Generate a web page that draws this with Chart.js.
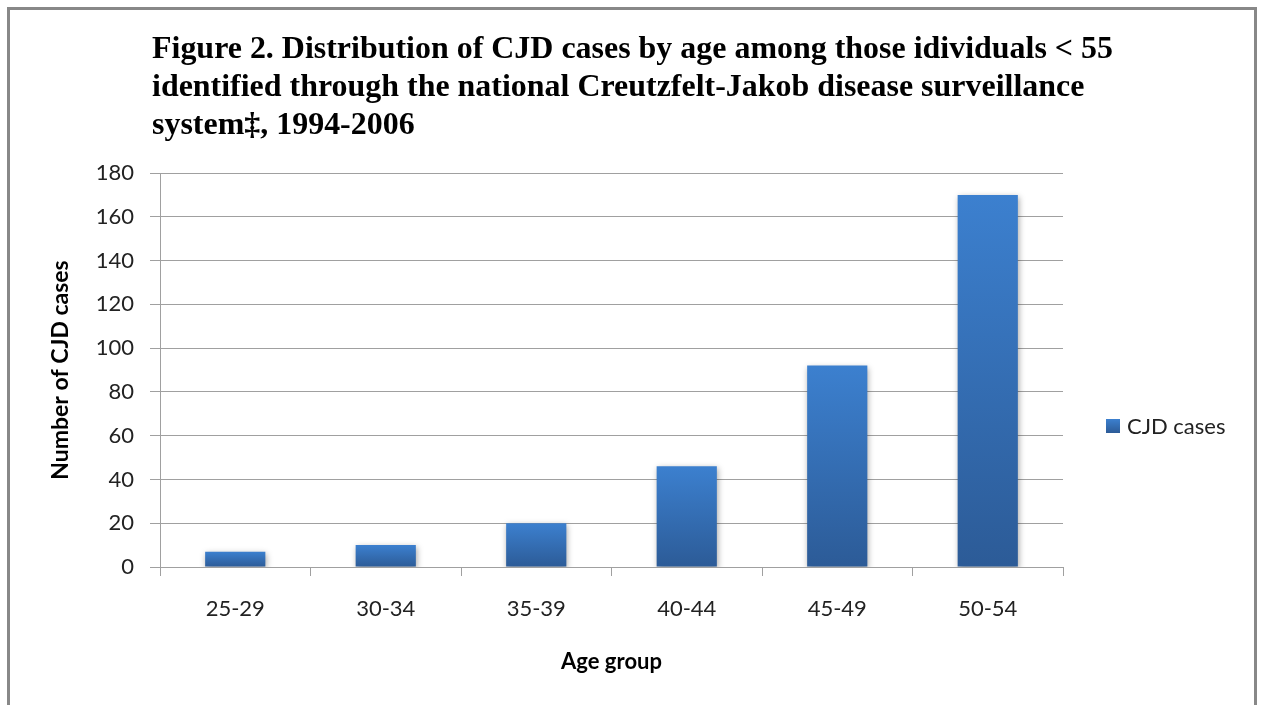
<!DOCTYPE html>
<html><head><meta charset="utf-8">
<script src="https://cdn.jsdelivr.net/npm/chart.js@4.4.0/dist/chart.umd.min.js"></script>
<style>
html,body{margin:0;padding:0;background:#fff;overflow:hidden}
#wrap{position:relative;width:1261px;height:705px}
#frame{position:absolute;left:7px;top:7px;width:1244px;height:720px;border:3px solid #888;pointer-events:none}
canvas{position:absolute;left:0;top:0}
</style></head><body>
<div id="wrap"><canvas id="c" width="1261" height="705"></canvas><div id="frame"></div></div>
<script>
const categories = ['25-29', '30-34', '35-39', '40-44', '45-49', '50-54'];
const cjdCases = [7, 10, 20, 46, 92, 170];
const yTicks = [0, 20, 40, 60, 80, 100, 120, 140, 160, 180];
const seriesName = 'CJD cases';
const titleLines = [
  'Figure 2. Distribution of CJD cases by age among those idividuals < 55',
  'identified through the national Creutzfelt-Jakob disease surveillance',
  'system\u2021, 1994-2006'
];
const xAxisTitle = 'Age group';
const yAxisTitle = 'Number of CJD cases';

const LABEL_FONT = 'Lato';
const GRID = '#a0a0a0';

function barGradient(chart, top, bot) {
  const g = chart.ctx.createLinearGradient(0, top, 0, bot);
  g.addColorStop(0, '#3C80CF');
  g.addColorStop(1, '#2C5B97');
  return g;
}

const titlePlugin = {
  id: 'figTitle',
  afterDraw(chart) {
    const c = chart.ctx;
    c.save();
    c.font = 'bold 32px "Liberation Serif"';
    c.fillStyle = '#000';
    c.textBaseline = 'alphabetic';
    const k = 961 / c.measureText(titleLines[0]).width;
    const baselines = [58, 96, 134];
    titleLines.forEach((t, i) => {
      c.save();
      c.translate(152, baselines[i]);
      c.scale(k, 1);
      c.fillText(t, 0, 0);
      c.restore();
    });
    c.restore();
  }
};

const legendPlugin = {
  id: 'sideLegend',
  afterDraw(chart) {
    const c = chart.ctx;
    c.save();
    c.fillStyle = barGradient(chart, 419, 433);
    c.fillRect(1106, 419, 14, 14);
    c.fillStyle = '#222';
    c.font = '22px "' + LABEL_FONT + '"';
    c.textBaseline = 'middle';
    c.textAlign = 'left';
    c.fillText(chart.data.datasets[0].label, 1127, 427);
    c.restore();
  }
};

const shadowPlugin = {
  id: 'barShadow',
  beforeDatasetsDraw(chart) {
    const c = chart.ctx;
    c.save();
    c.shadowColor = 'rgba(0,0,0,0.35)';
    c.shadowBlur = 6;
    c.shadowOffsetX = 1;
    c.shadowOffsetY = 2;
  },
  afterDatasetsDraw(chart) { chart.ctx.restore(); }
};

new Chart(document.getElementById('c'), {
  type: 'bar',
  data: {
    labels: categories,
    datasets: [{
      label: seriesName,
      data: cjdCases,
      backgroundColor: (ctx) => {
        const chart = ctx.chart;
        if (!chart.chartArea || ctx.type !== 'data') return '#3672BA';
        const y = chart.scales.y;
        return barGradient(chart, y.getPixelForValue(ctx.raw), y.getPixelForValue(0));
      },
      borderWidth: 0,
      categoryPercentage: 1,
      barPercentage: 0.4
    }]
  },
  options: {
    responsive: false,
    animation: false,
    devicePixelRatio: 1,
    layout: { padding: { left: 43, top: 173, right: 198, bottom: 0 } },
    plugins: { legend: { display: false }, title: { display: false }, tooltip: { enabled: false } },
    scales: {
      x: {
        afterFit: (s) => { s.height = 138; },
        grid: { offset: true, drawOnChartArea: false, drawTicks: true, tickLength: 9, color: GRID, lineWidth: 1 },
        border: { display: true, color: GRID, width: 1 },
        ticks: { font: { family: LABEL_FONT, size: 22 }, color: '#222', padding: 20, maxRotation: 0 },
        title: { display: true, text: xAxisTitle, font: { family: LABEL_FONT, size: 22, weight: 'bold' }, color: '#000', padding: { top: 4, bottom: 30 } }
      },
      y: {
        min: 0, max: 180,
        afterFit: (s) => { s.width = 117; },
        afterBuildTicks: (s) => { s.ticks = yTicks.map(v => ({ value: v })); },
        grid: { color: GRID, lineWidth: 1, tickLength: 10 },
        border: { display: true, color: GRID, width: 1 },
        ticks: { font: { family: LABEL_FONT, size: 22 }, color: '#222', padding: 16 },
        title: { display: true, text: yAxisTitle, font: { family: LABEL_FONT, size: 23, weight: 'bold' }, color: '#000', padding: { top: 4, bottom: 4 } }
      }
    }
  },
  plugins: [shadowPlugin, titlePlugin, legendPlugin]
});
</script>
</body></html>
